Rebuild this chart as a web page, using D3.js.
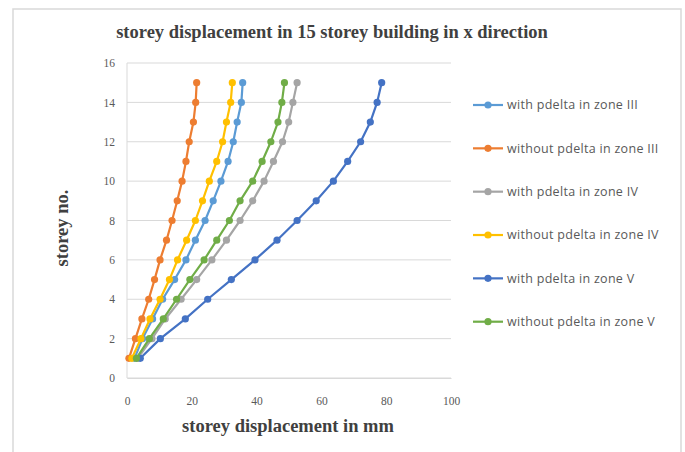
<!DOCTYPE html>
<html>
<head>
<meta charset="utf-8">
<script src="https://cdn.jsdelivr.net/npm/d3@7"></script>
<style>
  html, body { margin: 0; padding: 0; background: #fff; }
  svg { display: block; }
</style>
</head>
<body>
<svg id="chart" width="685" height="452"></svg>
<script>
// Storey numbers (1..15) and displacement (mm) per load case
const storeys = [1,2,3,4,5,6,7,8,9,10,11,12,13,14,15];
const withPdeltaIII    = [2.3,4.8,7.9,11.0,14.7,18.2,21.1,24.1,26.6,29.0,31.2,32.8,34.0,35.3,35.7];
const withoutPdeltaIII = [0.6,2.6,4.6,6.7,8.5,10.2,12.2,13.9,15.5,17.0,18.2,19.2,20.5,21.2,21.5];
const withPdeltaIV     = [3.3,7.7,11.8,16.7,21.5,26.2,30.7,34.9,38.8,42.3,45.2,48.0,49.9,51.2,52.5];
const withoutPdeltaIV  = [1.5,4.3,7.1,10.2,13.1,15.6,18.4,21.1,23.3,25.4,27.7,29.5,30.7,32.0,32.5];
const withPdeltaV      = [4.1,10.3,18.0,24.9,32.2,39.5,46.3,52.5,58.4,63.7,68.1,72.1,75.1,77.2,78.6];
const withoutPdeltaV   = [2.9,6.9,11.2,15.3,19.4,23.8,27.7,31.6,34.9,38.8,41.7,44.4,46.6,47.8,48.6];

const seriesNames = [
  "with pdelta in zone III",
  "without pdelta in zone III",
  "with pdelta in zone IV",
  "without pdelta in zone IV",
  "with pdelta in zone V",
  "without pdelta in zone V"
];
const seriesValues = [withPdeltaIII, withoutPdeltaIII, withPdeltaIV, withoutPdeltaIV, withPdeltaV, withoutPdeltaV];
const seriesColors = ["#5B9BD5", "#ED7D31", "#A5A5A5", "#FFC000", "#4472C4", "#70AD47"];

const xTicks = [0,20,40,60,80,100];
const yTicks = [0,2,4,6,8,10,12,14,16];

const titleText = "storey displacement in 15 storey building in x direction";
const xTitle = "storey displacement in mm";
const yTitle = "storey no.";

const svg = d3.select("#chart");

// outer chart frame
svg.append("rect")
  .attr("x", 13).attr("y", 9).attr("width", 668).attr("height", 452)
  .attr("fill", "#fff").attr("stroke", "#d9d9d9").attr("stroke-width", 1.5);

const x = d3.scaleLinear().domain([0, 100]).range([127, 451]);
const y = d3.scaleLinear().domain([0, 16]).range([378, 63]);

// horizontal gridlines
svg.append("g")
  .selectAll("line")
  .data(yTicks)
  .join("line")
  .attr("x1", x(0)).attr("x2", x(100))
  .attr("y1", d => y(d)).attr("y2", d => y(d))
  .attr("stroke", "#d9d9d9").attr("stroke-width", 1);

// y axis line
svg.append("line")
  .attr("x1", x(0)).attr("x2", x(0))
  .attr("y1", y(0)).attr("y2", y(16))
  .attr("stroke", "#d9d9d9").attr("stroke-width", 1);

// axes via d3-axis, styled lightly
const xAxis = svg.append("g")
  .attr("transform", `translate(0,${y(0)})`)
  .call(d3.axisBottom(x).tickValues(xTicks).tickSize(0).tickPadding(19));
xAxis.select(".domain").attr("stroke", "#d9d9d9");
xAxis.selectAll("text")
  .attr("font-family", "'Liberation Serif', serif")
  .attr("font-size", 11.5).attr("fill", "#595959");

const yAxis = svg.append("g")
  .attr("transform", `translate(${x(0)},0)`)
  .call(d3.axisLeft(y).tickValues(yTicks).tickSize(0).tickPadding(12));
yAxis.select(".domain").remove();
yAxis.selectAll("text")
  .attr("font-family", "'Liberation Serif', serif")
  .attr("font-size", 11.5).attr("fill", "#595959");

// series lines and markers
const line = d3.line().x(d => x(d.v)).y(d => y(d.s));
seriesValues.forEach((vals, i) => {
  const pts = vals.map((v, k) => ({ v, s: storeys[k] }));
  const g = svg.append("g");
  g.append("path")
    .datum(pts)
    .attr("d", line)
    .attr("fill", "none")
    .attr("stroke", seriesColors[i])
    .attr("stroke-width", 2.2)
    .attr("stroke-linejoin", "round");
  g.selectAll("circle")
    .data(pts)
    .join("circle")
    .attr("cx", d => x(d.v)).attr("cy", d => y(d.s))
    .attr("r", 3.6)
    .attr("fill", seriesColors[i]);
});

// title
svg.append("text")
  .attr("x", 332).attr("y", 38)
  .attr("text-anchor", "middle")
  .attr("font-family", "'Liberation Serif', serif")
  .attr("font-weight", "bold").attr("font-size", 18.5)
  .attr("fill", "#404040")
  .text(titleText);

// axis titles
svg.append("text")
  .attr("x", 288).attr("y", 432)
  .attr("text-anchor", "middle")
  .attr("font-family", "'Liberation Serif', serif")
  .attr("font-weight", "bold").attr("font-size", 18.5)
  .attr("fill", "#404040")
  .text(xTitle);

svg.append("text")
  .attr("transform", "translate(68,228) rotate(-90)")
  .attr("text-anchor", "middle")
  .attr("font-family", "'Liberation Serif', serif")
  .attr("font-weight", "bold").attr("font-size", 18.5)
  .attr("fill", "#404040")
  .text(yTitle);

// legend
const legendY = d3.scaleLinear().domain([0, 5]).range([105, 321.7]);
const legend = svg.append("g");
seriesNames.forEach((name, i) => {
  const ly = legendY(i);
  legend.append("line")
    .attr("x1", 473).attr("x2", 503).attr("y1", ly).attr("y2", ly)
    .attr("stroke", seriesColors[i]).attr("stroke-width", 2.2);
  legend.append("circle")
    .attr("cx", 488).attr("cy", ly).attr("r", 3.6)
    .attr("fill", seriesColors[i]);
  legend.append("text")
    .attr("x", 507).attr("y", ly).attr("dy", "0.35em")
    .attr("font-family", "'Open Sans', sans-serif")
    .attr("font-size", 12.5).attr("letter-spacing", 0.3)
    .attr("fill", "#595959")
    .text(name);
});
</script>
</body>
</html>
